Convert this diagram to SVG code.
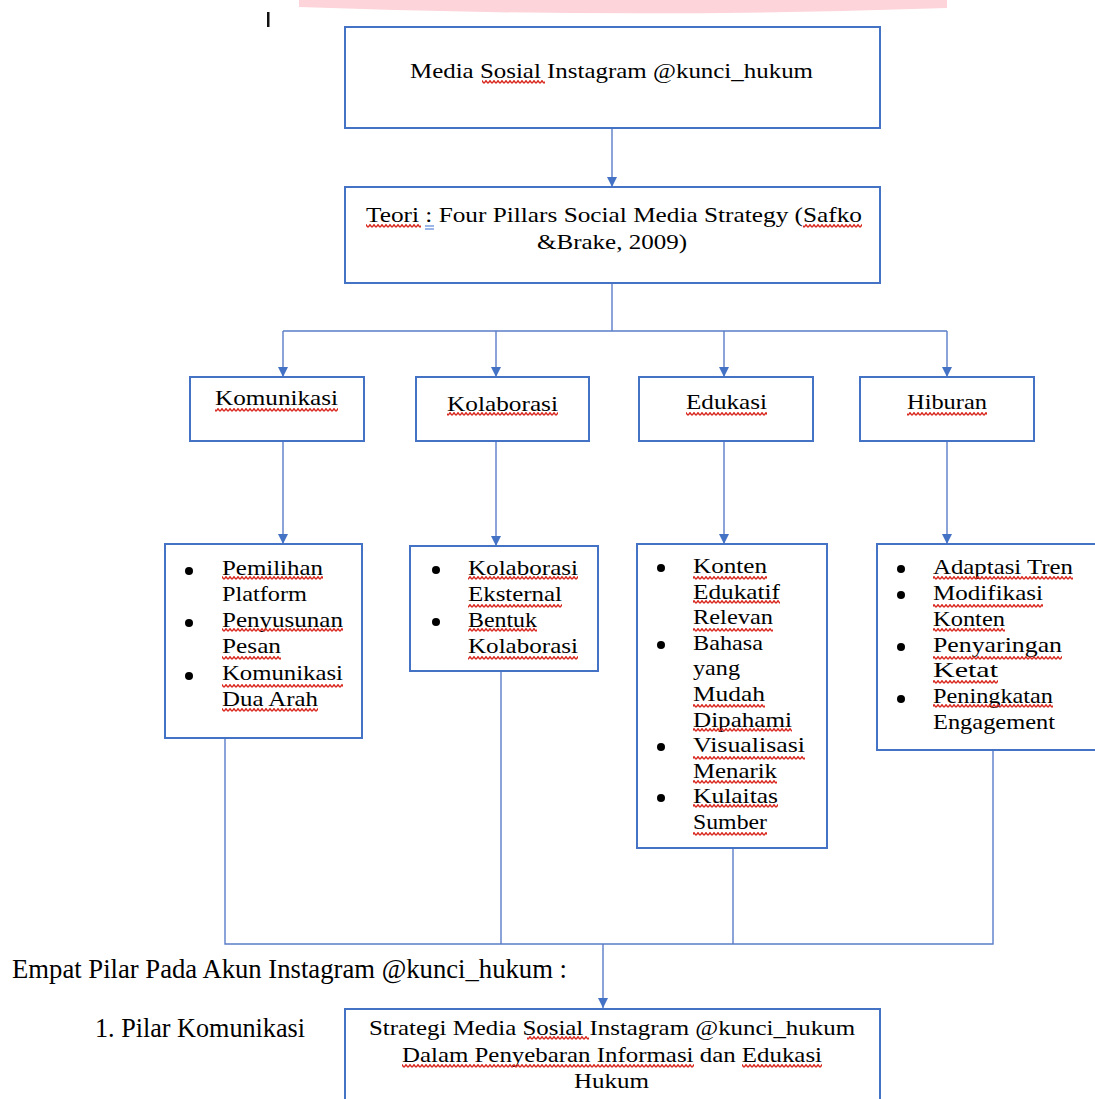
<svg xmlns="http://www.w3.org/2000/svg" width="1095" height="1099" viewBox="0 0 1095 1099">
<style>
.bx{fill:#fff;stroke:#4472c4;stroke-width:2}
.cn{fill:none;stroke:#5a7dc8;stroke-width:1.4}
.t{font-family:"Liberation Serif","Times New Roman",serif;fill:#000;font-size:21px}
.tb{font-family:"Liberation Serif","Times New Roman",serif;fill:#000;font-size:21.5px}
.tw{font-family:"Liberation Serif","Times New Roman",serif;fill:#000;font-size:28px}
.w{fill:url(#wv)}
.bl{fill:#000}
</style>
<defs>
<pattern id="wv" width="4" height="4" patternUnits="userSpaceOnUse"><path d="M0,3.3 L2,0.7 L4,3.3" fill="none" stroke="#d9261c" stroke-width="1.4"/></pattern>
<marker id="ar" markerWidth="11" markerHeight="11" refX="10" refY="5" orient="auto" markerUnits="userSpaceOnUse"><path d="M0,0 L10,5 L0,10 Z" fill="#4472c4"/></marker>
</defs>
<rect width="1095" height="1099" fill="#fff"/>
<path d="M299,0 H947 V8 Q623,19 299,7 Z" fill="#fcd4da"/>
<rect x="267" y="12" width="2.5" height="15" fill="#111"/>

<g id="connectors">
<path class="cn" d="M612,128 V187" marker-end="url(#ar)"/>
<path class="cn" d="M612,283 V331 M283,331 H947"/>
<path class="cn" d="M283,331 V377" marker-end="url(#ar)"/>
<path class="cn" d="M496,331 V377" marker-end="url(#ar)"/>
<path class="cn" d="M724,331 V377" marker-end="url(#ar)"/>
<path class="cn" d="M947,331 V377" marker-end="url(#ar)"/>
<path class="cn" d="M283,441 V544" marker-end="url(#ar)"/>
<path class="cn" d="M496,441 V546" marker-end="url(#ar)"/>
<path class="cn" d="M724,441 V544" marker-end="url(#ar)"/>
<path class="cn" d="M947,441 V544" marker-end="url(#ar)"/>
<path class="cn" d="M225,738 V944 H733 V848 M501,671 V944 M733,944 H993 V750"/>
<path class="cn" d="M603,944 V1008" marker-end="url(#ar)"/>
</g>

<g id="node-media">
<rect class="bx" x="345" y="27" width="535" height="101"/>
<text class="tb" x="410" y="78" textLength="403" lengthAdjust="spacingAndGlyphs">Media Sosial Instagram @kunci_hukum</text>
<rect class="w" x="482" y="80" width="63" height="4"/>
</g>

<g id="node-teori">
<rect class="bx" x="345" y="187" width="535" height="96"/>
<text class="tb" x="366" y="222" textLength="496" lengthAdjust="spacingAndGlyphs">Teori : Four Pillars Social Media Strategy (Safko</text>
<text class="tb" x="537" y="249" textLength="150" lengthAdjust="spacingAndGlyphs">&amp;Brake, 2009)</text>
<rect class="w" x="366" y="224" width="55" height="4"/>
<rect class="w" x="803" y="224" width="59" height="4"/>
<path d="M425,226 H434 M425,229 H434" stroke="#3b6fd0" stroke-width="1.2"/>
</g>

<g id="node-komunikasi">
<rect class="bx" x="190" y="377" width="174" height="64"/>
<text class="t" x="215" y="405" textLength="123" lengthAdjust="spacingAndGlyphs">Komunikasi</text>
<rect class="w" x="215" y="408" width="123" height="4"/>
</g>
<g id="node-kolaborasi">
<rect class="bx" x="416" y="377" width="173" height="64"/>
<text class="t" x="447" y="411" textLength="111" lengthAdjust="spacingAndGlyphs">Kolaborasi</text>
<rect class="w" x="447" y="412" width="111" height="4"/>
</g>
<g id="node-edukasi">
<rect class="bx" x="639" y="377" width="174" height="64"/>
<text class="t" x="686" y="409" textLength="81" lengthAdjust="spacingAndGlyphs">Edukasi</text>
<rect class="w" x="686" y="412" width="81" height="4"/>
</g>
<g id="node-hiburan">
<rect class="bx" x="860" y="377" width="174" height="64"/>
<text class="t" x="907" y="409" textLength="80" lengthAdjust="spacingAndGlyphs">Hiburan</text>
<rect class="w" x="907" y="412" width="80" height="4"/>
</g>

<g id="node-list-komunikasi">
<rect class="bx" x="165" y="544" width="197" height="194"/>
<circle class="bl" cx="189" cy="571" r="4"/>
<circle class="bl" cx="189" cy="623" r="4"/>
<circle class="bl" cx="189" cy="676" r="4"/>
<text class="t" x="222" y="575" textLength="101" lengthAdjust="spacingAndGlyphs">Pemilihan</text>
<text class="t" x="222" y="601" textLength="85" lengthAdjust="spacingAndGlyphs">Platform</text>
<text class="t" x="222" y="627" textLength="121" lengthAdjust="spacingAndGlyphs">Penyusunan</text>
<text class="t" x="222" y="653" textLength="59" lengthAdjust="spacingAndGlyphs">Pesan</text>
<text class="t" x="222" y="680" textLength="121" lengthAdjust="spacingAndGlyphs">Komunikasi</text>
<text class="t" x="222" y="706" textLength="96" lengthAdjust="spacingAndGlyphs">Dua Arah</text>
<rect class="w" x="222" y="576" width="101" height="4"/>
<rect class="w" x="222" y="628" width="121" height="4"/>
<rect class="w" x="222" y="656" width="59" height="4"/>
<rect class="w" x="222" y="684" width="121" height="4"/>
<rect class="w" x="222" y="708" width="96" height="4"/>
</g>

<g id="node-list-kolaborasi">
<rect class="bx" x="410" y="546" width="188" height="125"/>
<circle class="bl" cx="436" cy="570" r="4"/>
<circle class="bl" cx="436" cy="622" r="4"/>
<text class="t" x="468" y="575" textLength="110" lengthAdjust="spacingAndGlyphs">Kolaborasi</text>
<text class="t" x="468" y="601" textLength="94" lengthAdjust="spacingAndGlyphs">Eksternal</text>
<text class="t" x="468" y="627" textLength="69" lengthAdjust="spacingAndGlyphs">Bentuk</text>
<text class="t" x="468" y="653" textLength="110" lengthAdjust="spacingAndGlyphs">Kolaborasi</text>
<rect class="w" x="468" y="576" width="110" height="4"/>
<rect class="w" x="468" y="604" width="94" height="4"/>
<rect class="w" x="468" y="628" width="69" height="4"/>
<rect class="w" x="468" y="656" width="110" height="4"/>
</g>

<g id="node-list-edukasi">
<rect class="bx" x="637" y="544" width="190" height="304"/>
<circle class="bl" cx="661" cy="568" r="4"/>
<circle class="bl" cx="661" cy="645" r="4"/>
<circle class="bl" cx="661" cy="747" r="4"/>
<circle class="bl" cx="661" cy="798" r="4"/>
<text class="t" x="693" y="573" textLength="74" lengthAdjust="spacingAndGlyphs">Konten</text>
<text class="t" x="693" y="599" textLength="87" lengthAdjust="spacingAndGlyphs">Edukatif</text>
<text class="t" x="693" y="624" textLength="80" lengthAdjust="spacingAndGlyphs">Relevan</text>
<text class="t" x="693" y="650" textLength="70" lengthAdjust="spacingAndGlyphs">Bahasa</text>
<text class="t" x="693" y="675" textLength="47" lengthAdjust="spacingAndGlyphs">yang</text>
<text class="t" x="693" y="701" textLength="72" lengthAdjust="spacingAndGlyphs">Mudah</text>
<text class="t" x="693" y="727" textLength="99" lengthAdjust="spacingAndGlyphs">Dipahami</text>
<text class="t" x="693" y="752" textLength="112" lengthAdjust="spacingAndGlyphs">Visualisasi</text>
<text class="t" x="693" y="778" textLength="84" lengthAdjust="spacingAndGlyphs">Menarik</text>
<text class="t" x="693" y="803" textLength="85" lengthAdjust="spacingAndGlyphs">Kulaitas</text>
<text class="t" x="693" y="829" textLength="74" lengthAdjust="spacingAndGlyphs">Sumber</text>
<rect class="w" x="693" y="576" width="74" height="4"/>
<rect class="w" x="693" y="600" width="87" height="4"/>
<rect class="w" x="693" y="628" width="80" height="4"/>
<rect class="w" x="693" y="704" width="72" height="4"/>
<rect class="w" x="693" y="728" width="99" height="4"/>
<rect class="w" x="693" y="756" width="112" height="4"/>
<rect class="w" x="693" y="780" width="84" height="4"/>
<rect class="w" x="693" y="804" width="85" height="4"/>
<rect class="w" x="693" y="832" width="74" height="4"/>
</g>

<g id="node-list-hiburan">
<rect class="bx" x="877" y="544" width="230" height="206"/>
<circle class="bl" cx="901" cy="569" r="4"/>
<circle class="bl" cx="901" cy="595" r="4"/>
<circle class="bl" cx="901" cy="647" r="4"/>
<circle class="bl" cx="901" cy="699" r="4"/>
<text class="t" x="933" y="574" textLength="140" lengthAdjust="spacingAndGlyphs">Adaptasi Tren</text>
<text class="t" x="933" y="600" textLength="110" lengthAdjust="spacingAndGlyphs">Modifikasi</text>
<text class="t" x="933" y="626" textLength="72" lengthAdjust="spacingAndGlyphs">Konten</text>
<text class="t" x="933" y="652" textLength="129" lengthAdjust="spacingAndGlyphs">Penyaringan</text>
<text class="t" x="933" y="677" textLength="65" lengthAdjust="spacingAndGlyphs">Ketat</text>
<text class="t" x="933" y="703" textLength="120" lengthAdjust="spacingAndGlyphs">Peningkatan</text>
<text class="t" x="933" y="729" textLength="122" lengthAdjust="spacingAndGlyphs">Engagement</text>
<rect class="w" x="933" y="576" width="140" height="4"/>
<rect class="w" x="933" y="604" width="110" height="4"/>
<rect class="w" x="933" y="628" width="72" height="4"/>
<rect class="w" x="933" y="656" width="129" height="4"/>
<rect class="w" x="933" y="680" width="65" height="4"/>
<rect class="w" x="933" y="704" width="120" height="4"/>
</g>

<text class="tw" x="12" y="978" textLength="555" lengthAdjust="spacingAndGlyphs">Empat Pilar Pada Akun Instagram @kunci_hukum :</text>
<text class="tw" x="95" y="1037" textLength="210" lengthAdjust="spacingAndGlyphs">1. Pilar Komunikasi</text>

<g id="node-strategi">
<rect class="bx" x="345" y="1009" width="535" height="100"/>
<text class="tb" x="369" y="1035" textLength="486" lengthAdjust="spacingAndGlyphs">Strategi Media Sosial Instagram @kunci_hukum</text>
<text class="tb" x="402" y="1062" textLength="420" lengthAdjust="spacingAndGlyphs">Dalam Penyebaran Informasi dan Edukasi</text>
<text class="tb" x="574" y="1088" textLength="75" lengthAdjust="spacingAndGlyphs">Hukum</text>
<rect class="w" x="527" y="1036" width="62" height="4"/>
<rect class="w" x="402" y="1064" width="292" height="4"/>
<rect class="w" x="742" y="1064" width="80" height="4"/>
</g>
</svg>
